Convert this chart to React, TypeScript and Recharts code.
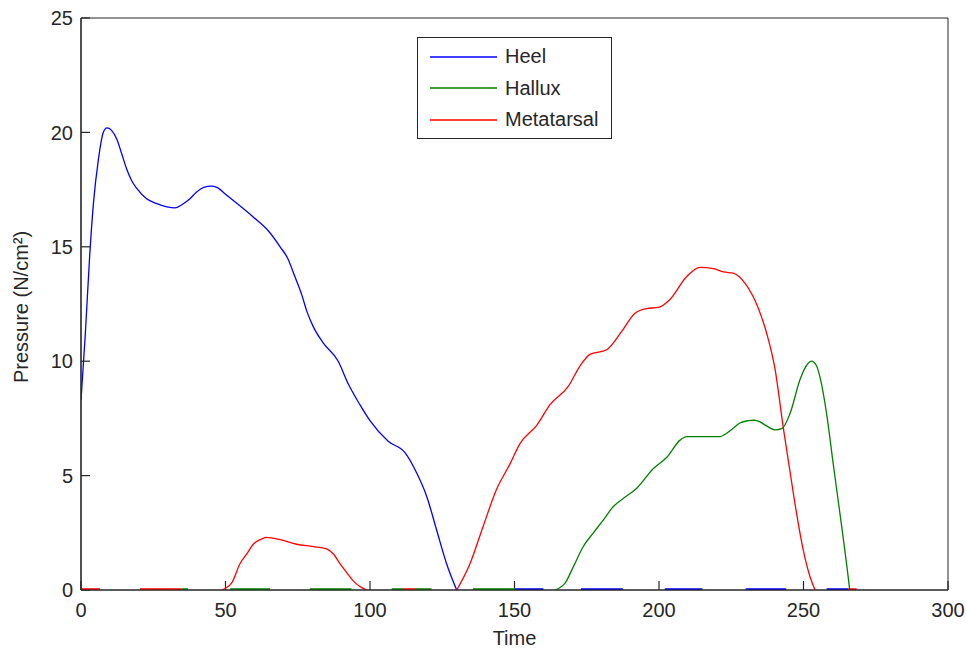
import { LineChart, Line, XAxis, YAxis, Legend, ReferenceArea, ReferenceLine } from "recharts";

const heelTime = [0, 1.5, 3, 4.3, 6, 7.7, 9, 10.5, 12.4, 14, 15.8, 17.5, 19.3, 22.7, 26, 29.7, 32.5, 35, 37.7, 40, 42.5, 45, 47, 50, 53.9, 59.6, 64.8, 68.9, 71.5, 74, 76.4, 78.1, 80.4, 83.8, 89, 92.5, 96.5, 100, 106.3, 112.1, 116.2, 119.6, 123.1, 126.5, 130];
const heelValues = [8.3, 11.2, 14.6, 16.9, 18.8, 20.0, 20.2, 20.1, 19.7, 19.1, 18.4, 17.9, 17.55, 17.1, 16.9, 16.75, 16.7, 16.85, 17.1, 17.4, 17.6, 17.65, 17.6, 17.3, 16.9, 16.3, 15.7, 15.0, 14.5, 13.7, 12.9, 12.2, 11.5, 10.8, 10.0, 9.0, 8.1, 7.4, 6.5, 6.0, 5.1, 4.1, 2.6, 1.15, 0];

const halluxTime = [164, 167.5, 170.3, 173.8, 177.3, 180.7, 184.2, 187.6, 192.3, 198, 202.7, 207.3, 209.6, 214, 221.1, 223.4, 226, 228, 230.9, 233, 234.9, 237.5, 240.1, 242.5, 245.3, 248.8, 250.5, 252.8, 254.5, 255.7, 258, 260.3, 262.6, 264.9, 266];
const halluxValues = [0, 0.3, 1.0, 1.9, 2.5, 3.05, 3.65, 4.0, 4.45, 5.3, 5.8, 6.55, 6.7, 6.7, 6.7, 6.85, 7.1, 7.3, 7.4, 7.42, 7.35, 7.15, 7.0, 7.05, 7.7, 9.2, 9.7, 10.0, 9.8, 9.3, 7.7, 5.5, 3.35, 1.15, 0];

const metaTime = [48.7, 52.1, 55, 57.5, 59.6, 62, 64.2, 68.9, 74.6, 80.4, 85, 87.5, 89.6, 92, 94.2, 96.5, 98.9, 110, 130, 134.6, 139.2, 143.8, 148.4, 151.9, 157.7, 162.3, 168.6, 172.7, 176.1, 181.9, 187.1, 191.7, 195.7, 199.8, 203.8, 209.6, 214.2, 218.8, 222.3, 225.7, 229.8, 234.4, 237.3, 240.1, 243, 245.3, 247.6, 249.9, 252.2, 254];
const metaValues = [0, 0.3, 1.15, 1.6, 2.0, 2.2, 2.3, 2.2, 2.0, 1.9, 1.8, 1.55, 1.15, 0.75, 0.4, 0.15, 0, null, 0, 1.15, 2.8, 4.4, 5.5, 6.4, 7.2, 8.1, 8.9, 9.8, 10.3, 10.5, 11.3, 12.1, 12.3, 12.35, 12.7, 13.7, 14.1, 14.05, 13.9, 13.85, 13.4, 12.3, 11.2, 9.7, 7.1, 5.2, 3.35, 1.75, 0.6, 0];

// stretches where each series sits on zero (seen as coloured dashes on the axis)
const heelZero = [[150.2, 160], [173, 187.5], [202, 215], [230, 244], [258, 265.4]];
const halluxZero = [[34.8, 37], [51.6, 65.4], [79.2, 93.6], [107.5, 111.4], [115.6, 121.3], [135.6, 150.2]];
const metaZero = [[0, 6.6], [20.4, 34.8], [111.4, 115.6], [265.4, 268.4]];

const seriesNames = ["Heel", "Hallux", "Metatarsal"];
const seriesColors = ["#0000ff", "#008000", "#ff0000"];

const xTicks = [0, 50, 100, 150, 200, 250, 300];
const yTicks = [0, 5, 10, 15, 20, 25];

const toPoints = (ts: number[], vs: (number | null)[]) => ts.map((t, i) => ({ t, v: vs[i] }));
const toSegments = (segs: number[][]) =>
  segs.flatMap(([a, b]) => [{ t: a, v: 0 }, { t: b, v: 0 }, { t: b, v: null }]);

const heelData = toPoints(heelTime, heelValues);
const halluxData = toPoints(halluxTime, halluxValues);
const metaData = toPoints(metaTime, metaValues);

const font = "'Liberation Sans', Arial, sans-serif";
const ink = "#262626";

// plot is 867 x 572 px; inward tick marks about 9 px long, expressed in axis units
const X_MAX = 300;
const Y_MAX = 25;
const xTickLen = (9 / 572) * Y_MAX;
const yTickLen = (9 / 867) * X_MAX;

function YLabel() {
  return (
    <text x={28} y={307} transform="rotate(-90 28 307)" textAnchor="middle" fontSize={20} fill={ink} fontFamily={font}>
      Pressure (N/cm²)
    </text>
  );
}

function LegendBox() {
  return (
    <div style={{ border: "1px solid #262626", background: "#fff", width: 193, height: 97, fontFamily: font, fontSize: 20, color: ink, paddingTop: 3, boxSizing: "content-box" }}>
      {seriesNames.map((name, i) => (
        <div key={name} style={{ display: "flex", alignItems: "center", height: 31.5 }}>
          <svg width={87} height={4} style={{ display: "block" }}>
            <line x1={12} x2={79} y1={2} y2={2} stroke={seriesColors[i]} strokeWidth={1.3} />
          </svg>
          <span>{name}</span>
        </div>
      ))}
    </div>
  );
}

export default function App() {
  return (
    <div style={{ position: "absolute", left: 0, top: 0, width: 967, height: 648, background: "#fff" }}>
      <LineChart width={967} height={648} margin={{ top: 18, right: 19, left: 0, bottom: 0 }}>
        <XAxis
          dataKey="t"
          type="number"
          domain={[0, X_MAX]}
          ticks={xTicks}
          allowDataOverflow
          height={58}
          tickLine={false}
          tickSize={0}
          tickMargin={13}
          stroke={ink}
          strokeWidth={1.2}
          tick={{ fontSize: 20, fill: ink, fontFamily: font }}
          label={{ value: "Time", position: "insideBottom", offset: 3, fontSize: 20, fill: ink, fontFamily: font }}
        />
        <YAxis
          type="number"
          domain={[0, Y_MAX]}
          ticks={yTicks}
          allowDataOverflow
          width={81}
          tickLine={false}
          tickSize={0}
          tickMargin={8}
          stroke={ink}
          strokeWidth={1.2}
          tick={{ fontSize: 20, fill: ink, fontFamily: font }}
          label={<YLabel />}
        />
        <ReferenceArea x1={0} x2={X_MAX} y1={0} y2={Y_MAX} fill="none" fillOpacity={0} stroke={ink} strokeWidth={1} />
        {xTicks.map((t) => (
          <ReferenceLine key={`xt${t}`} segment={[{ x: t, y: 0 }, { x: t, y: xTickLen }]} stroke={ink} strokeWidth={1.2} ifOverflow="visible" />
        ))}
        {yTicks.map((v) => (
          <ReferenceLine key={`yt${v}`} segment={[{ x: 0, y: v }, { x: yTickLen, y: v }]} stroke={ink} strokeWidth={1.2} ifOverflow="visible" />
        ))}
        <Legend layout="vertical" align="center" verticalAlign="middle" wrapperStyle={{ left: 417, top: 37, width: 195, height: 102 }} content={() => <LegendBox />} />
        <Line data={toSegments(heelZero)} dataKey="v" stroke={seriesColors[0]} strokeWidth={3.5} dot={false} legendType="none" isAnimationActive={false} />
        <Line data={toSegments(halluxZero)} dataKey="v" stroke={seriesColors[1]} strokeWidth={3.5} dot={false} legendType="none" isAnimationActive={false} />
        <Line data={toSegments(metaZero)} dataKey="v" stroke={seriesColors[2]} strokeWidth={3.5} dot={false} legendType="none" isAnimationActive={false} />
        <Line data={heelData} dataKey="v" name={seriesNames[0]} type="monotone" stroke={seriesColors[0]} strokeWidth={1.3} dot={false} isAnimationActive={false} />
        <Line data={halluxData} dataKey="v" name={seriesNames[1]} type="monotone" stroke={seriesColors[1]} strokeWidth={1.3} dot={false} isAnimationActive={false} />
        <Line data={metaData} dataKey="v" name={seriesNames[2]} type="monotone" stroke={seriesColors[2]} strokeWidth={1.3} dot={false} isAnimationActive={false} />
      </LineChart>
    </div>
  );
}
